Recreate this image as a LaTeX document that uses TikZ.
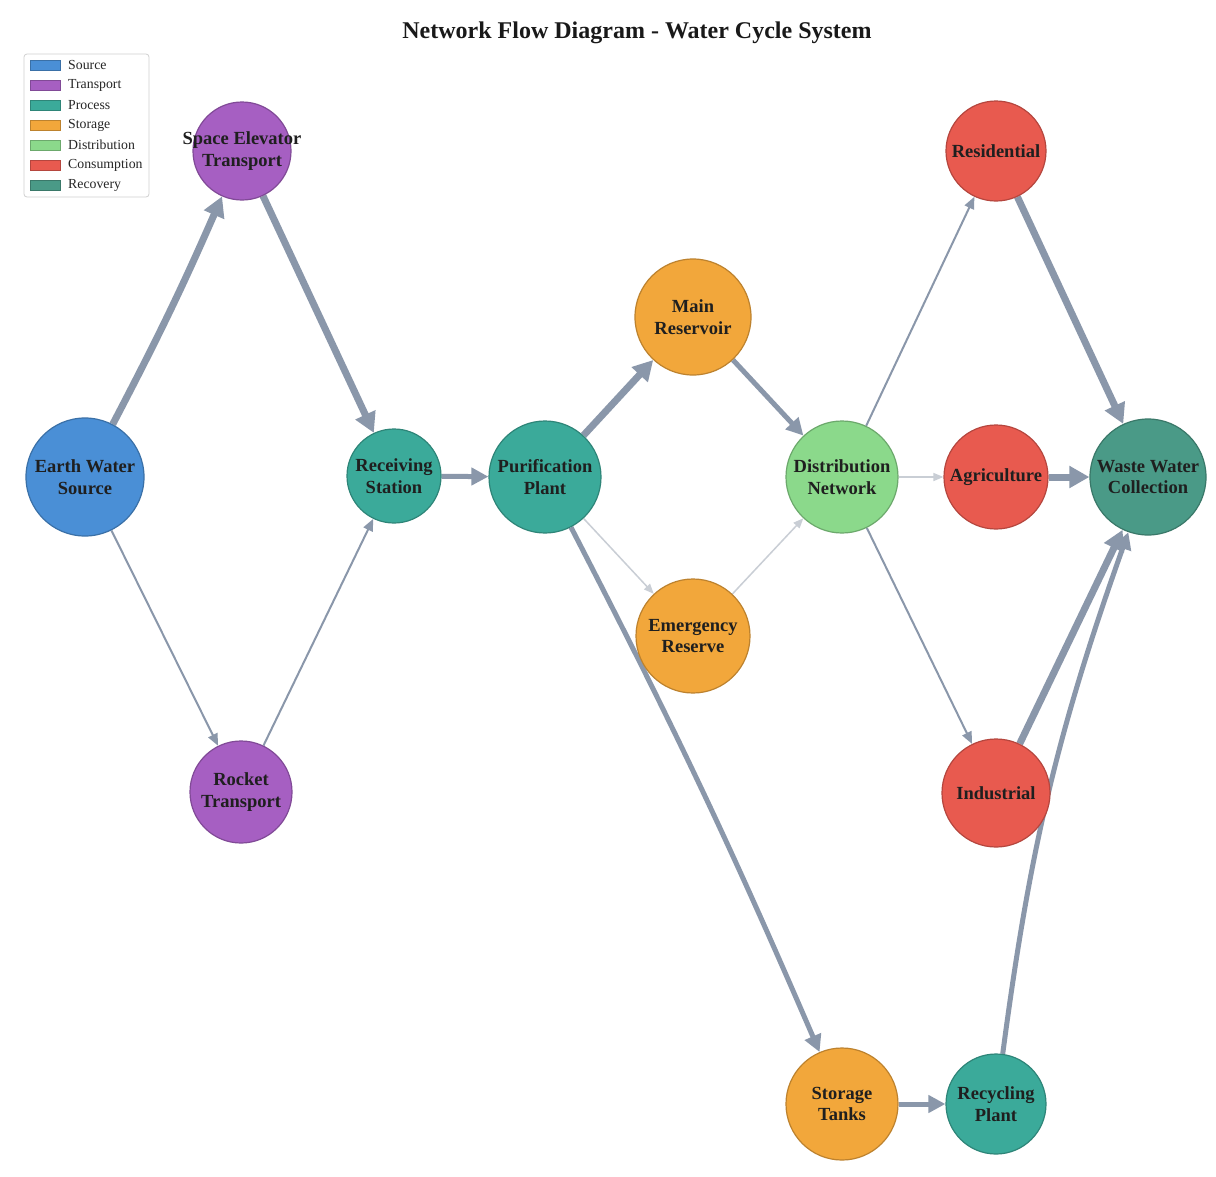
\documentclass[tikz,border=0pt]{standalone}
\usepackage{fontspec}
\setmainfont{Liberation Serif}
\usetikzlibrary{arrows.meta}
\pgfdeclarelayer{back}
\pgfdeclarelayer{bg}
\pgfsetlayers{back,bg,main}
\definecolor{csource}{HTML}{4A8FD6}
\definecolor{ctransport}{HTML}{A65FC2}
\definecolor{cprocess}{HTML}{3BAA9A}
\definecolor{cstorage}{HTML}{F2A73B}
\definecolor{cdistrib}{HTML}{8BD98B}
\definecolor{cconsume}{HTML}{E85A4F}
\definecolor{crecover}{HTML}{4A9A87}
\definecolor{edgec}{HTML}{8A97AA}
\definecolor{edgelight}{HTML}{C9CED5}
\definecolor{legborder}{HTML}{D0D0D0}
\tikzset{
  nd/.style={circle, draw=#1!78!black, fill=#1, line width=1.2pt, inner sep=0pt},
  lbl/.style={font=\bfseries\fontsize{18.5}{21.5}\selectfont, align=center, text=black!88},
  e1/.style={draw=edgelight, line width=1.5pt, -{Triangle[length=10pt,width=8pt]}},
  e2/.style={draw=edgec, line width=2pt, -{Triangle[length=12pt,width=10pt]}},
  e5/.style={draw=edgec, line width=5pt, -{Triangle[length=17pt,width=17pt]}},
  e7/.style={draw=edgec, line width=7pt, -{Triangle[length=20pt,width=21pt]}},
  legpatch/.style={draw=#1!78!black, fill=#1, line width=0.6pt},
  legtext/.style={anchor=west, font=\fontsize{13.8}{15}\selectfont, text=black!85, inner sep=0pt}
}
\begin{document}
\begin{tikzpicture}[x=1pt,y=-1pt]
\useasboundingbox (0,0) rectangle (1216,1176);
\begin{pgfonlayer}{back}
\fill[white] (0,0) rectangle (1216,1176);
\end{pgfonlayer}

% title
\node[font=\bfseries\fontsize{24}{28}\selectfont, text=black!90] (title) at (637,33) {Network Flow Diagram - Water Cycle System};

% nodes
\node[nd=csource, minimum size=118pt] (earth) at (85,477) {};
\node[nd=ctransport, minimum size=98pt] (space) at (242,151) {};
\node[nd=ctransport, minimum size=102pt] (rocket) at (241,792) {};
\node[nd=cprocess, minimum size=94pt] (recv) at (394,476) {};
\node[nd=cprocess, minimum size=112pt] (pur) at (545,477) {};
\node[nd=cstorage, minimum size=116pt] (mainres) at (693,317) {};
\node[nd=cstorage, minimum size=114pt] (emerg) at (693,636) {};
\node[nd=cdistrib, minimum size=112pt] (dist) at (842,477) {};
\node[nd=cconsume, minimum size=100pt] (res) at (996,151) {};
\node[nd=cconsume, minimum size=104pt] (agri) at (996,477) {};
\node[nd=cconsume, minimum size=108pt] (ind) at (996,793) {};
\node[nd=crecover, minimum size=116pt] (waste) at (1148,477) {};
\node[nd=cstorage, minimum size=112pt] (tanks) at (842,1104) {};
\node[nd=cprocess, minimum size=100pt] (recyc) at (996,1104) {};

% labels
\node[lbl] (earthL) at (earth) {Earth Water\\Source};
\node[lbl] (spaceL) at (space) {Space Elevator\\Transport};
\node[lbl] (rocketL) at (rocket) {Rocket\\Transport};
\node[lbl] (recvL) at (recv) {Receiving\\Station};
\node[lbl] (purL) at (pur) {Purification\\Plant};
\node[lbl] (mainresL) at (mainres) {Main\\Reservoir};
\node[lbl] (emergL) at (emerg) {Emergency\\Reserve};
\node[lbl] (distL) at (dist) {Distribution\\Network};
\node[lbl] (resL) at (res) {Residential};
\node[lbl] (agriL) at (agri) {Agriculture};
\node[lbl] (indL) at (ind) {Industrial};
\node[lbl] (wasteL) at (waste) {Waste Water\\Collection};
\node[lbl] (tanksL) at (tanks) {Storage\\Tanks};
\node[lbl] (recycL) at (recyc) {Recycling\\Plant};

% edges
\begin{pgfonlayer}{bg}
\draw[e7] (earth) to[bend right=2] (space);
\draw[e2] (earth) to (rocket);
\draw[e7] (space) to (recv);
\draw[e2] (rocket) to (recv);
\draw[e5] (recv) to (pur);
\draw[e7] (pur) to (mainres);
\draw[e1] (pur) to (emerg);
\draw[e5] (pur) to[bend left=2] (tanks);
\draw[e5] (mainres) to (dist);
\draw[e1] (emerg) to (dist);
\draw[e2] (dist) to (res);
\draw[e1] (dist) to (agri);
\draw[e2] (dist) to (ind);
\draw[e7] (res) to (waste);
\draw[e7] (agri) to (waste);
\draw[e7] (ind) to (waste);
\draw[e5] (tanks) to (recyc);
\draw[e5] (recyc) to[bend left=6] (waste);
\end{pgfonlayer}

% legend
\draw[draw=legborder, fill=white, rounded corners=3pt, line width=0.8pt] (24,54) rectangle (149,197);
\foreach \c/\t [count=\i from 0] in {csource/Source, ctransport/Transport, cprocess/Process, cstorage/Storage, cdistrib/Distribution, cconsume/Consumption, crecover/Recovery}{
  \draw[legpatch=\c] (30,{65+20*\i-5}) rectangle (60,{65+20*\i+5});
  \node[legtext] (leg\i) at (68,{65+20*\i}) {\t};
}
\end{tikzpicture}
\end{document}
